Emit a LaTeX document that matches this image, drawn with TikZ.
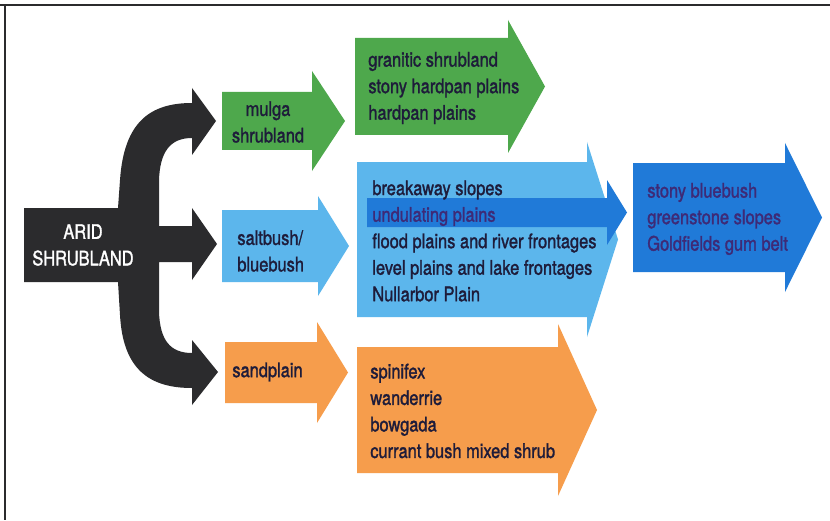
\documentclass[tikz,border=0pt]{standalone}
\usepackage{fontspec}
\setmainfont{TeX Gyre Heros}[FakeStretch=0.82, FakeBold=1.4]
\usepackage{xcolor}
\usetikzlibrary{calc}

\definecolor{aridblack}{RGB}{43,43,45}
\definecolor{mulgagreen}{RGB}{78,168,76}
\definecolor{saltblue}{RGB}{92,182,236}
\definecolor{deepblue}{RGB}{32,122,216}
\definecolor{sandorange}{RGB}{246,157,76}
\definecolor{inktext}{RGB}{30,28,58}
\definecolor{inkpurple}{RGB}{62,42,118}

% block arrow: colour, left x, head x, tip x, top y, bottom y, head overhang
\newcommand{\blockarrow}[7]{%
  \fill[#1] (#2,#5) -- (#3,#5) -- (#3,#5-#7) -- (#4,{(#5+#6)/2})
    -- (#3,#6+#7) -- (#3,#6) -- (#2,#6) -- cycle;}

\begin{document}
\begin{tikzpicture}[x=0.02cm, y=-0.02cm,
    lbl/.style={anchor=west, align=left, inner sep=0, text=inktext,
      font=\fontsize{11.4}{15.1}\selectfont}]
\useasboundingbox (0,0) rectangle (830,520);
\fill[white] (0,0) rectangle (830,520);
\draw[aridblack, line width=1.6pt] (0,5) -- (830,5);
\draw[aridblack, line width=0.9pt] (5,5) -- (5,520);

% the branching black arrow
\fill[aridblack] (24,208) -- (118,208) -- (120,180)
  .. controls (124,122) and (150,103) .. (192,103) -- (192,88) -- (216,121)
  -- (192,155) -- (192,138) .. controls (170,138) and (160,152) .. (159,180)
  -- (159,226) -- (192,226) -- (192,208) -- (217,244) -- (192,280)
  -- (192,262) -- (159,262) -- (159,312)
  .. controls (160,340) and (170,353) .. (192,353) -- (192,340) -- (218,372)
  -- (192,405) -- (192,388) .. controls (150,388) and (123,370) .. (120,315)
  -- (118,282) -- (24,282) -- cycle;

\blockarrow{mulgagreen}{222}{312}{345}{92}{150}{21}
\blockarrow{saltblue}{222}{318}{349}{210}{282}{14}
\blockarrow{sandorange}{225}{317}{348}{342}{403}{20}
\blockarrow{mulgagreen}{355}{508}{545}{38}{135}{18}
\blockarrow{saltblue}{357}{587}{618}{162}{317}{20}
\blockarrow{deepblue}{367}{607}{627}{198}{227}{18}
\blockarrow{deepblue}{633}{785}{822}{163}{272}{20}
\blockarrow{sandorange}{357}{558}{597}{347}{473}{23}

\node[lbl, anchor=center, align=center, text=white] (arid) at (83,245)
  {ARID\\SHRUBLAND};
\node[lbl, anchor=center, align=center] (mulga) at (268,122) {mulga\\shrubland};
\node[lbl] (saltbush) at (237,251) {saltbush/\\bluebush};
\node[lbl] (sandplain) at (232,372) {sandplain};

\node[lbl] (granitic) at (368,88)
  {granitic shrubland\\stony hardpan plains\\hardpan plains};
\node[lbl] (breakaway) at (372,241)
  {breakaway slopes\\\textcolor{inkpurple}{undulating plains}\\flood plains and river frontages\\level plains and lake frontages\\Nullarbor Plain};
\node[lbl, text=inkpurple] (stony) at (647,219)
  {stony bluebush\\greenstone slopes\\Goldfields gum belt};
\node[lbl] (spinifex) at (370,411)
  {spinifex\\wanderrie\\bowgada\\currant bush mixed shrub};
\end{tikzpicture}
\end{document}
